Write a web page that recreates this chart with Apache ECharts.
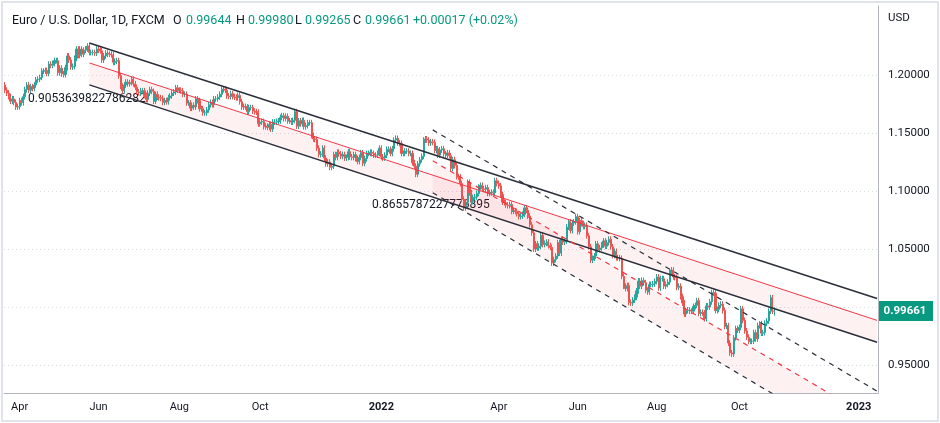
<!DOCTYPE html>
<html><head><meta charset="utf-8">
<script src="https://cdn.jsdelivr.net/npm/echarts@6/dist/echarts.min.js"></script>
<style>html,body{margin:0;padding:0;background:#fff}#c{width:940px;height:423px}</style>
</head><body><div id="c"></div>
<script>
// Daily closes (EUR/USD), month by month
const closes2021 = [
 1.1870,1.1845,1.1815,1.1775,1.1795,1.1765,1.1725,1.1728,
 1.1780,1.1762,1.1815,1.1875,1.1915,1.1870,1.1900,1.1885,1.1915,1.1960,1.1965,1.1980,1.2035,1.2035,1.2040,1.2015,1.2095,1.2085,1.2100,1.2125,1.2125,1.2020,
 1.2060,1.2010,1.2005,1.2065,1.2165,1.2130,1.2070,1.2075,1.2145,1.2225,1.2170,1.2225,1.2180,1.2215,1.2225,1.2250,1.2195,1.2195,1.2195,1.2190,1.2225,
 1.2215,1.2210,1.2130,1.2165,1.2190,1.2180,1.2180,1.2175,1.2110,1.2120,1.2125,1.1995,1.1905,1.1865,1.1915,1.1940,1.1925,1.1935,1.1965,1.1925,1.1895,1.1855,
 1.1850,1.1865,1.1865,1.1825,1.1790,1.1845,1.1875,1.1860,1.1775,1.1835,1.1810,1.1805,1.1800,1.1765,1.1780,1.1770,1.1805,1.1820,1.1845,1.1855,1.1890,1.1870,
 1.1870,1.1865,1.1835,1.1835,1.1760,1.1760,1.1715,1.1740,1.1725,1.1795,1.1780,1.1710,1.1710,1.1675,1.1675,1.1700,1.1745,1.1765,1.1745,1.1795,1.1795,1.1810,
 1.1835,1.1875,1.1880,1.1870,1.1820,1.1815,1.1840,1.1815,1.1810,1.1805,1.1825,1.1770,1.1725,1.1730,1.1725,1.1685,1.1720,1.1720,1.1690,1.1685,1.1680,1.1580,
 1.1595,1.1600,1.1555,1.1560,1.1550,1.1575,1.1535,1.1595,1.1595,1.1600,1.1605,1.1635,1.1650,1.1625,1.1645,1.1605,1.1605,1.1595,1.1610,1.1685,1.1560,
 1.1605,1.1580,1.1610,1.1555,1.1565,1.1590,1.1590,1.1480,1.1450,1.1445,1.1370,1.1315,1.1320,1.1370,1.1285,1.1235,1.1250,1.1205,1.1215,1.1315,1.1290,1.1335,
 1.1320,1.1300,1.1315,1.1285,1.1290,1.1340,1.1295,1.1290,1.1315,1.1280,1.1255,1.1290,1.1330,1.1240,1.1280,1.1325,1.1325,1.1335,1.1325,1.1310,1.1310,1.1325,1.1370
];
const closes2022 = [
 1.1295,1.1285,1.1310,1.1360,1.1360,1.1325,1.1365,1.1440,1.1455,1.1415,1.1410,1.1325,1.1325,1.1345,1.1345,1.1325,1.1325,1.1245,1.1215,1.1145,1.1235,
 1.1270,1.1300,1.1440,1.1450,1.1440,1.1415,1.1425,1.1420,1.1350,1.1365,1.1310,1.1355,1.1365,1.1320,1.1310,1.1330,1.1305,1.1195,1.1270,1.1220,
 1.1125,1.1120,1.1065,1.0930,1.0855,1.0905,1.1075,1.0985,1.0910,1.0945,1.0950,1.0980,1.1035,1.1050,1.1020,1.1015,1.1030,1.0980,1.0985,1.0990,1.0985,1.1090,1.1065,
 1.1045,1.0970,1.0905,1.0900,1.0880,1.0875,1.0885,1.0825,1.0830,1.0825,1.0805,1.0780,1.0785,1.0800,1.0855,1.0835,1.0785,1.0710,1.0640,1.0500,1.0545,
 1.0510,1.0525,1.0620,1.0540,1.0550,1.0560,1.0530,1.0515,1.0380,1.0410,1.0440,1.0555,1.0465,1.0585,1.0560,1.0570,1.0690,1.0735,1.0660,1.0725,1.0735,1.0780,
 1.0650,1.0745,1.0720,1.0695,1.0705,1.0615,1.0520,1.0405,1.0420,1.0440,1.0545,1.0495,1.0510,1.0535,1.0570,1.0525,1.0555,1.0585,1.0520,1.0445,1.0480,1.0425,
 1.0425,1.0420,1.0265,1.0180,1.0160,1.0185,1.0040,1.0035,1.0060,1.0085,1.0140,1.0225,1.0180,1.0230,1.0210,1.0145,1.0130,1.0195,1.0195,1.0200,1.0220,
 1.0260,1.0165,1.0245,1.0245,1.0180,1.0195,1.0215,1.0300,1.0320,1.0260,1.0255,1.0170,1.0180,1.0090,1.0035,0.9940,0.9970,0.9975,0.9965,0.9965,1.0005,1.0015,1.0055,
 0.9945,0.9955,0.9950,0.9900,1.0010,1.0000,1.0045,1.0125,1.0120,0.9970,0.9980,1.0015,1.0025,0.9970,0.9835,0.9840,0.9690,0.9605,0.9595,0.9735,0.9815,0.9800,
 0.9825,0.9985,0.9885,0.9795,0.9740,0.9705,0.9705,0.9705,0.9780,0.9725,0.9840,0.9855,0.9775,0.9780,0.9860,0.9880,0.9965,1.0080,0.9965,0.99661
];
const firstOpen = 1.1915;
const wick = 0.0025;
const yTicks = [0.95, 1.05, 1.10, 1.15, 1.20];
const gridValues = [0.95, 1.00, 1.05, 1.10, 1.15, 1.20];
const monthNames = ['Jan','Feb','Mar','Apr','May','Jun','Jul','Aug','Sep','Oct','Nov','Dec'];
// Regression channels: [startIndex, endIndex, startPrice, endPrice]
const mainUpper = [46, 475, 1.2277, 1.0074];
const mainMid   = [46, 475, 1.2105, 0.9885];
const mainLower = [46, 475, 1.1916, 0.9696];
const dashUpper = [233, 475, 1.1528, 0.9275];
const dashMid   = [233, 475, 1.1261, 0.9015];
const dashLower = [233, 475, 1.0986, 0.8720];
// header legend parts
const headerParts = [
  ['Euro / U.S. Dollar, 1D, FXCM', 'k', 12], ['O', 'k', 173], ['0.99644', 'v', 186],
  ['H', 'k', 236], ['0.99980', 'v', 248], ['L', 'k', 295], ['0.99265', 'v', 305],
  ['C', 'k', 353], ['0.99661', 'v', 365], ['+0.00017 (+0.02%)', 'v', 413]
];

const categories = [];
{ let d = new Date(Date.UTC(2021,2,22));
  while (categories.length < 476) { const w = d.getUTCDay();
    if (w !== 0 && w !== 6) categories.push(d.toISOString().slice(0,10));
    d = new Date(d.getTime() + 86400000); } }
const closes = closes2021.concat(closes2022);
const ohlc = closes.map((c, i) => {
  const o = i === 0 ? firstOpen : closes[i-1];
  return [o, c, Math.min(o,c) - wick, Math.max(o,c) + wick];
});
ohlc[ohlc.length-1] = [0.99644, 0.99661, 0.99265, 0.99980];

const labelIdx = new Set();
categories.forEach((c, i) => {
  const m = +c.slice(5,7);
  if (i > 0 && categories[i-1].slice(5,7) !== c.slice(5,7) && [1,4,6,8,10].includes(m)) labelIdx.add(i);
});
const seg = (s) => [[s[0], s[2]], [s[1], s[3]]];
const lineS = (s, color, width, type) => ({ type:'line', data: seg(s), symbol:'none', silent:true,
  lineStyle:{color, width, type}, z:5, animation:false });
const fillS = (lo, mid) => ({ type:'custom', silent:true, z:1, animation:false,
  data: [[lo[0], lo[1], lo[2], lo[3], mid[2], mid[3]]],
  renderItem: (params, api) => {
    const a = api.coord([api.value(0), api.value(2)]), b = api.coord([api.value(1), api.value(3)]);
    const c = api.coord([api.value(1), api.value(5)]), d = api.coord([api.value(0), api.value(4)]);
    const cs = params.coordSys;
    return { type:'polygon', shape:{points:[a,b,c,d]}, style:{fill:'rgba(242,54,69,0.07)'},
      clipPath:{type:'rect', shape:{x:cs.x, y:cs.y, width:cs.width, height:cs.height}} };
  }});

const chart = echarts.init(document.getElementById('c'));
const TEAL = '#089981';
chart.setOption({
  animation:false,
  grid:{left:4, right:62, top:6, bottom:30},
  xAxis:{ type:'category', data:categories, boundaryGap:true,
    axisLine:{show:true, lineStyle:{color:'#b2b5be'}}, axisTick:{show:false}, splitLine:{show:false},
    axisLabel:{ interval:(i) => labelIdx.has(i), color:'#131722', fontSize:11, margin:9, fontFamily:'Roboto',
      formatter:(v) => { const m = +v.slice(5,7); return m === 1 ? '{b|' + v.slice(0,4) + '}' : monthNames[m-1]; },
      rich:{b:{fontWeight:'bold', fontSize:11, color:'#131722', fontFamily:'Roboto'}} } },
  yAxis:{ type:'value', position:'right', min:0.9259, max:1.2596, scale:true,
    axisLine:{show:true, lineStyle:{color:'#b2b5be'}}, axisTick:{show:false}, splitLine:{show:false},
    axisLabel:{ customValues:yTicks, color:'#131722', fontSize:11.5, margin:10, fontFamily:'Roboto',
      formatter:(v) => v.toFixed(5) } },
  series:[
    fillS(mainLower, mainMid),
    fillS(dashLower, dashMid),
    { type:'candlestick', data:ohlc, barWidth:1.6, z:3,
      itemStyle:{color:'#26a69a', color0:'#ef5350', borderColor:'#26a69a', borderColor0:'#ef5350', borderWidth:1},
      markLine:{ silent:true, symbol:'none', label:{show:false}, z:0,
        lineStyle:{color:'#d6d9e0', type:[1,3], width:1},
        data: gridValues.map(v => ({yAxis:v})) } },
    lineS(mainUpper, '#2a2e39', 1.5, 'solid'),
    lineS(mainMid, '#f23645', 1, 'solid'),
    lineS(mainLower, '#2a2e39', 1.5, 'solid'),
    lineS(dashUpper, '#2a2e39', 1.2, [5,5]),
    lineS(dashMid, '#f23645', 1.2, [5,5]),
    lineS(dashLower, '#2a2e39', 1.2, [5,5])
  ]
});
const last = closes[closes.length-1];
const py = chart.convertToPixel({yAxisIndex:0}, last);
const graphics = [
  {type:'rect', shape:{x:2, y:2, width:936, height:419}, style:{fill:'none', stroke:'#e0e3eb', lineWidth:2}, silent:true},
  {type:'text', x:888, y:18, style:{text:'USD', fill:'#131722', fontSize:11.5, fontFamily:'Roboto', verticalAlign:'middle'}},
  {type:'text', x:28, y:99, style:{text:'0.9053639822786282', fill:'#131722', fontSize:12, fontFamily:'Roboto', verticalAlign:'middle'}},
  {type:'text', x:372, y:205, style:{text:'0.8655787227776895', fill:'#131722', fontSize:12, fontFamily:'Roboto', verticalAlign:'middle'}},
  {type:'rect', shape:{x:878, y:py-10, width:55, height:20}, style:{fill:TEAL}},
  {type:'text', x:905, y:py, style:{text:last.toFixed(5), fill:'#fff', fontSize:11.5, fontWeight:'bold', fontFamily:'Roboto', align:'center', verticalAlign:'middle'}}
];
headerParts.forEach(([t, k, x]) => graphics.push({type:'text', x, y:21,
  style:{text:t, fill: k === 'k' ? '#131722' : TEAL, fontSize:12.5, fontFamily:'Roboto', verticalAlign:'middle'}}));
chart.setOption({ graphic: graphics });
</script></body></html>
